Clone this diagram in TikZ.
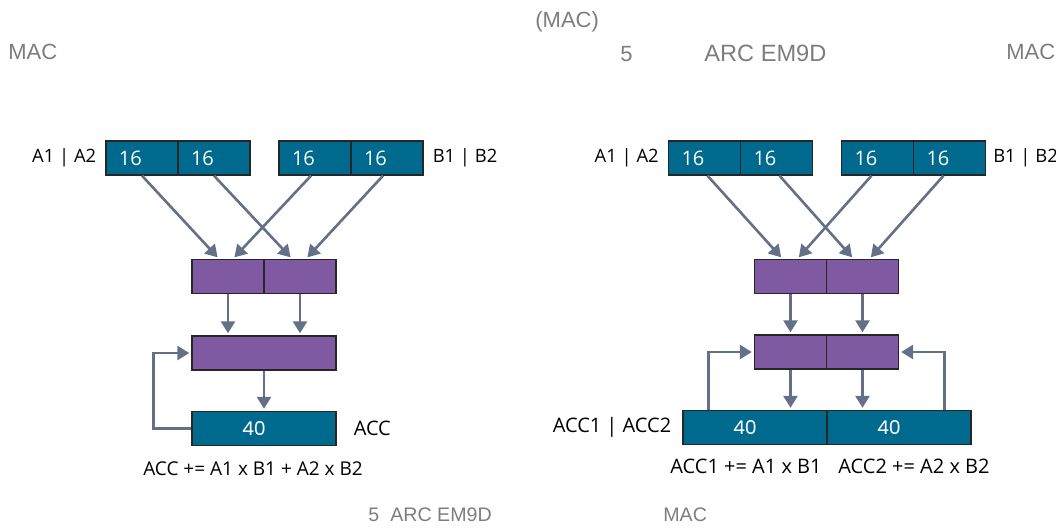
\documentclass[tikz,border=0pt]{standalone}
\usepackage{fontspec}
\setmainfont{Open Sans}
\newfontfamily\hdrfont{Liberation Sans}
\newfontfamily\accfont{Poppins}
\usetikzlibrary{arrows.meta,positioning}
\definecolor{regblue}{RGB}{0,105,142}
\definecolor{mulpurple}{RGB}{128,89,163}
\definecolor{flowgray}{RGB}{100,112,135}
\definecolor{hdrgray}{RGB}{125,125,125}

\begin{document}
\begin{tikzpicture}[x=0.5pt, y=-0.5pt, every node/.style={font=\fontsize{9.2}{11}\selectfont}, >={Triangle[length=6pt,width=7pt]},
	reg/.style={draw=black!85, line width=0.7pt, fill=regblue, text=white, minimum width=36pt, minimum height=17pt, inner sep=0pt, text width=23pt, align=left, font=\fontsize{10}{12}\selectfont},
	acc/.style={reg, minimum width=72pt, text width=22pt, font=\accfont\fontsize{9.5}{11}\selectfont},
	mul/.style={draw=black!85, line width=0.7pt, fill=mulpurple, minimum width=36pt, minimum height=17pt, inner sep=0pt},
	flow/.style={->, flowgray, line width=1.3pt, shorten >=1pt},
	big/.style={font=\fontsize{10}{12}\selectfont},
	hdr/.style={font=\hdrfont\fontsize{11}{13}\selectfont, text=hdrgray, anchor=base west, inner sep=0pt}]
	\useasboundingbox (0,0) rectangle (1056,527);
	\node[hdr] (t1) at (535,27) {(MAC)};
	\node[hdr] (t2) at (8,59.5) {MAC};
	\node[hdr] (t3) at (620,61.5) {5};
	\node[hdr, font=\hdrfont\fontsize{11.8}{13}\selectfont] (t4) at (704,61.5) {ARC EM9D};
	\node[hdr] (t5) at (1006,59.5) {MAC};
	\node[reg] (la1) at (142,158) {16};
	\node[reg] (la2) at (214,158) {16};
	\node[reg] (lb1) at (315,158) {16};
	\node[reg] (lb2) at (387,158) {16};
	\node[left=1pt of la1] (lalab) {A1 | A2};
	\node[right=1pt of lb2] (lblab) {B1 | B2};
	\node[mul] (lp1) at (228,276.5) {};
	\node[mul] (lp2) at (300,276.5) {};
	\node[mul, minimum width=72pt] (lm) at (264,353) {};
	\node[acc] (lacc) at (264,428.5) {40};
	\node[big, right=5pt of lacc] (lacclab) {ACC};
	\node[below=4pt of lacc, xshift=-5.5pt, font=\fontsize{9.5}{11}\selectfont] (lfml) {ACC += A1 x B1 + A2 x B2};
	\draw[flow] (la1.south) -- ([xshift=-4.5pt]lp1.north);
	\draw[flow] (la2.south) -- ([xshift=-4pt]lp2.north);
	\draw[flow] ([xshift=-2pt]lb1.south) -- ([xshift=2.5pt]lp1.north);
	\draw[flow] ([xshift=-2pt]lb2.south) -- ([xshift=3pt]lp2.north);
	\draw[flow] (lp1.south) -- (lp1.south |- lm.north);
	\draw[flow] (lp2.south) -- (lp2.south |- lm.north);
	\draw[flow] (lm.south) -- (lacc.north);
	\draw[flow] (lacc.west) -- ++(-38,0) |- (lm.west);
	\node[reg] (ra1) at (704.5,158) {16};
	\node[reg] (ra2) at (776.5,158) {16};
	\node[reg] (rb1) at (877.5,158) {16};
	\node[reg] (rb2) at (949.5,158) {16};
	\node[left=1pt of ra1] (ralab) {A1 | A2};
	\node[right=0pt of rb2] (rblab) {B1 | B2};
	\node[mul] (rp1) at (790.5,276.5) {};
	\node[mul] (rp2) at (862.5,276.5) {};
	\node[mul] (rm1) at (790.5,352) {};
	\node[mul] (rm2) at (862.5,352) {};
	\node[acc] (racc1) at (755,427.5) {40};
	\node[acc] (racc2) at (899,427.5) {40};
	\node[big, left=2pt of racc1] (racclab) {ACC1 | ACC2};
	\node[big, below=3.5pt of racc1, xshift=-4.5pt] (rfml1) {ACC1 += A1 x B1};
	\node[big, below=3.5pt of racc2, xshift=7.5pt] (rfml2) {ACC2 += A2 x B2};
	\draw[flow] ([xshift=1.5pt]ra1.south) -- ([xshift=-4pt]rp1.north);
	\draw[flow] ([xshift=1.5pt]ra2.south) -- ([xshift=-4.5pt]rp2.north);
	\draw[flow] ([xshift=-3pt]rb1.south) -- ([xshift=3.5pt]rp1.north);
	\draw[flow] ([xshift=-3pt]rb2.south) -- ([xshift=3.5pt]rp2.north);
	\draw[flow] (rp1.south) -- (rm1.north);
	\draw[flow] (rp2.south) -- (rm2.north);
	\draw[flow] (rm1.south) -- (rm1.south |- racc1.north);
	\draw[flow] (rm2.south) -- (rm2.south |- racc2.north);
	\draw[flow] ([xshift=13pt]racc1.north west) |- (rm1.west);
	\draw[flow] ([xshift=-13.5pt]racc2.north east) |- (rm2.east);
	\node[hdr, font=\hdrfont\fontsize{9.8}{12}\selectfont] (b1) at (368,521.5) {5};
	\node[hdr, font=\hdrfont\fontsize{9.8}{12}\selectfont] (b2) at (390,521.5) {ARC EM9D};
	\node[hdr, font=\hdrfont\fontsize{9.8}{12}\selectfont] (b3) at (663,521.5) {MAC};
\end{tikzpicture}
\end{document}
